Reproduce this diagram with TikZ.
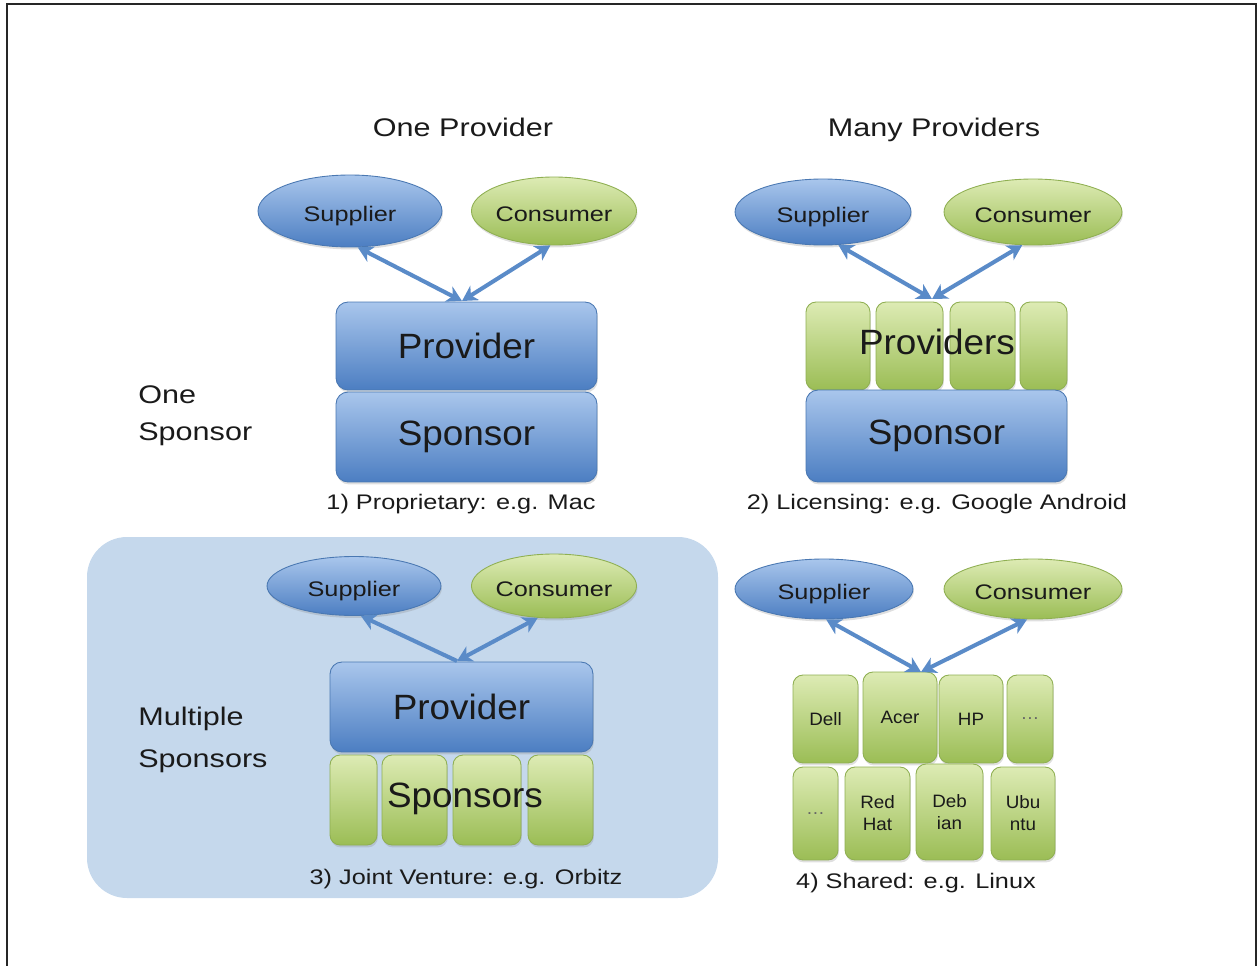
\documentclass[tikz,border=0pt]{standalone}
\usepackage{fontspec}
\setmainfont{Liberation Sans}
\newfontfamily\wfont[FakeStretch=1.2]{Liberation Sans}
\newfontfamily\nfont[FakeStretch=1.05]{Liberation Sans}
\usetikzlibrary{shapes.geometric,arrows.meta,shadows}
\definecolor{bTop}{HTML}{A9C6EC}
\definecolor{bBot}{HTML}{4C7EC2}
\definecolor{bLine}{HTML}{4A78B2}
\definecolor{gTop}{HTML}{DDEBB4}
\definecolor{gBot}{HTML}{9BBD55}
\definecolor{gLine}{HTML}{8FAF52}
\definecolor{arrC}{HTML}{5A8BC8}
\definecolor{bgBlue}{HTML}{C5D8EC}
\definecolor{txt}{HTML}{1A1A1A}
\begin{document}
\begin{tikzpicture}[x=0.02cm,y=-0.02cm,
  >={Stealth[length=8.5pt,width=9.5pt,inset=2.5pt]},
  shadowed/.style={drop shadow={opacity=0.25,shadow xshift=0.5pt,shadow yshift=-1.4pt}},
  bluebox/.style={rectangle,rounded corners=0.24cm,top color=bTop,bottom color=bBot,draw=bLine,line width=0.5pt,shadowed,inner sep=0pt,text=txt,font=\nfont\fontsize{20}{24}\selectfont},
  greenbox/.style={rectangle,rounded corners=0.2cm,top color=gTop,bottom color=gBot,draw=gLine,line width=0.5pt,shadowed,inner sep=0pt,text=txt,font=\nfont\fontsize{10.2}{12.5}\selectfont,align=center},
  ellbase/.style={ellipse,line width=0.5pt,shadowed,inner sep=0pt,text=txt,text height=12pt,text depth=0pt,font=\wfont\fontsize{12}{14}\selectfont},
  blueell/.style={ellbase,top color=bTop,bottom color=bBot,draw=bLine},
  greenell/.style={ellbase,top color=gTop,bottom color=gBot,draw=gLine},
  bigtxt/.style={text=txt,font=\nfont\fontsize{20}{24}\selectfont,inner sep=0pt},
  title/.style={text=txt,font=\wfont\fontsize{14.5}{22}\selectfont,inner sep=0pt,align=left},
  caption/.style={text=txt,font=\wfont\fontsize{12}{14}\selectfont,inner sep=0pt},
  arr/.style={draw=arrC,line width=2.3pt}
]
\useasboundingbox (0,0) rectangle (1257,966);
\draw[line width=1.2pt,black!85] (7,966) -- (7,4) -- (1256,4) -- (1256,966);

% ---------- Quadrant 3 background ----------
\path[fill=bgBlue,rounded corners=0.8cm] (87,537) rectangle (718,898);

% ---------- titles ----------
\node[title,anchor=base] (t1) at (463,137) {One Provider};
\node[title,anchor=base] (t2) at (934,137) {Many Providers};
\node[title,anchor=west,font=\wfont\fontsize{14.5}{21}\selectfont] (r1) at (138,415.5) {One\\Sponsor};
\node[title,anchor=west,font=\wfont\fontsize{14.5}{23.8}\selectfont] (r2) at (138,740) {Multiple\\Sponsors};

% ---------- Quadrant 1 ----------
\node[blueell,minimum width=3.68cm,minimum height=1.44cm] (sup1) at (350,211) {Supplier};
\node[greenell,minimum width=3.28cm,minimum height=1.36cm] (con1) at (554,211) {Consumer};
\node[bluebox,minimum width=5.22cm,minimum height=1.76cm] (prov1) at (466.5,346) {Provider};
\node[bluebox,minimum width=5.22cm,minimum height=1.8cm] (spon1) at (466.5,437) {Sponsor};
\coordinate (m1) at (462,301);
\draw[arr,<->] (sup1.-78) -- (m1);
\draw[arr,<->] (con1.-96) -- (m1);
\node[caption] (c1) at (461,504) {1) Proprietary: e.g. Mac};

% ---------- Quadrant 2 ----------
\node[blueell,minimum width=3.52cm,minimum height=1.32cm] (sup2) at (823,212) {Supplier};
\node[greenell,minimum width=3.56cm,minimum height=1.32cm] (con2) at (1033,212) {Consumer};
\node[greenbox,minimum width=1.28cm,minimum height=1.76cm] (g21) at (838,346) {};
\node[greenbox,minimum width=1.34cm,minimum height=1.76cm] (g22) at (909.5,346) {};
\node[greenbox,minimum width=1.30cm,minimum height=1.76cm] (g23) at (982.5,346) {};
\node[greenbox,minimum width=0.94cm,minimum height=1.76cm] (g24) at (1043.5,346) {};
\node[bigtxt] (pt2) at (937,342) {Providers};
\node[bluebox,minimum width=5.22cm,minimum height=1.84cm] (spon2) at (936.5,436) {Sponsor};
\coordinate (m2) at (932,299);
\draw[arr,<->] (sup2.-65) -- (m2);
\draw[arr,<->] (con2.-108) -- (m2);
\node[caption] (c2) at (937,504) {2) Licensing: e.g. Google Android};

% ---------- Quadrant 3 ----------
\node[blueell,minimum width=3.48cm,minimum height=1.18cm] (sup3) at (354,586) {Supplier};
\node[greenell,minimum width=3.24cm,minimum height=1.28cm] (con3) at (554,586) {Consumer};
\node[greenbox,minimum width=0.94cm,minimum height=1.8cm] (s31) at (353.5,800) {};
\node[greenbox,minimum width=1.30cm,minimum height=1.8cm] (s32) at (414.5,800) {};
\node[greenbox,minimum width=1.36cm,minimum height=1.8cm] (s33) at (487,800) {};
\node[greenbox,minimum width=1.30cm,minimum height=1.8cm] (s34) at (560.5,800) {};
\node[bigtxt] (st3) at (465,799) {Sponsors};
\node[bluebox,minimum width=5.26cm,minimum height=1.8cm] (prov3) at (461.5,707) {Provider};
\coordinate (m3) at (457,661);
\draw[arr,->] (m3) -- (sup3.-77);
\draw[arr,<->] (con3.-117) -- (m3);
\node[caption] (c3) at (466,879) {3) Joint Venture: e.g. Orbitz};

% ---------- Quadrant 4 ----------
\node[blueell,minimum width=3.56cm,minimum height=1.2cm] (sup4) at (824,589) {Supplier};
\node[greenell,minimum width=3.56cm,minimum height=1.2cm] (con4) at (1033,589) {Consumer};
\node[greenbox,minimum width=1.30cm,minimum height=1.76cm] (dell) at (825.5,719) {Dell};
\node[greenbox,minimum width=1.48cm,minimum height=1.82cm] (acer) at (900,717.5) {Acer};
\node[greenbox,minimum width=1.28cm,minimum height=1.76cm] (hp) at (971,719) {HP};
\node[greenbox,minimum width=0.92cm,minimum height=1.76cm] (dots1) at (1030,719) {\textcolor{black!60}{…}};
\node[greenbox,minimum width=0.90cm,minimum height=1.86cm] (dots2) at (815.5,813.5) {\textcolor{black!60}{…}};
\node[greenbox,minimum width=1.30cm,minimum height=1.86cm] (redhat) at (877.5,813.5) {Red\\Hat};
\node[greenbox,minimum width=1.34cm,minimum height=1.92cm] (debian) at (949.5,812) {Deb\\ian};
\node[greenbox,minimum width=1.28cm,minimum height=1.86cm] (ubuntu) at (1023,813.5) {Ubu\\ntu};
\coordinate (m4) at (921,672);
\draw[arr,<->] (sup4.-86) -- (m4);
\draw[arr,<->] (con4.-101) -- (m4);
\node[caption] (c4) at (916,883) {4) Shared: e.g. Linux};
\end{tikzpicture}
\end{document}
